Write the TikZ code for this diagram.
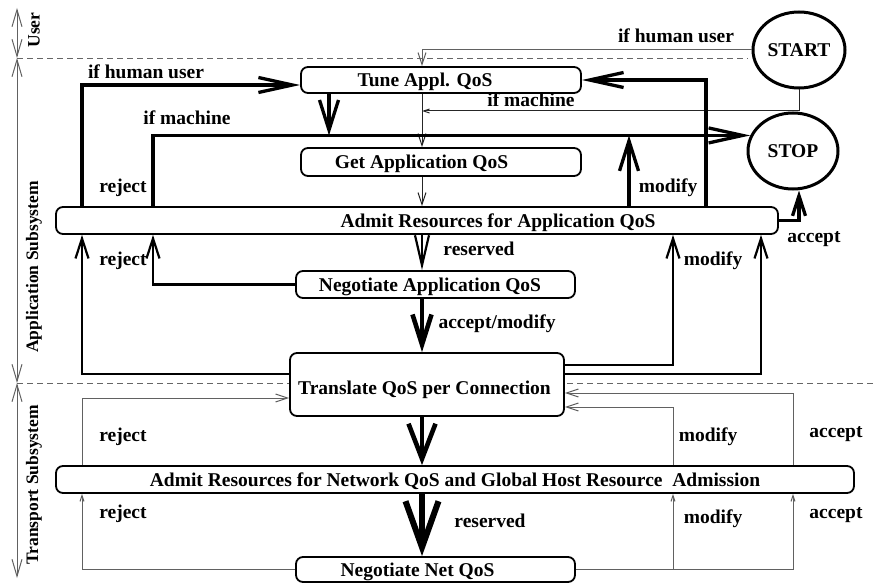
\documentclass[tikz,border=0pt]{standalone}
\usepackage{fontspec}
\setmainfont{Liberation Serif}
\usetikzlibrary{arrows.meta,shapes.geometric}

\tikzset{
  Vhuge/.tip={Straight Barb[length=46pt,width=33pt]},
  Vbig/.tip={Straight Barb[length=30pt,width=19pt]},
  Vlong/.tip={Straight Barb[length=34pt,width=15pt]},
  Vmed/.tip={Straight Barb[length=20pt,width=13pt]},
  Vsmall/.tip={Straight Barb[length=12pt,width=8pt]},
  Vtiny/.tip={Straight Barb[length=6pt,width=4pt]},
}

\begin{document}
\begin{tikzpicture}[x=1pt,y=-1pt,
  every node/.style={font=\fontsize{19.5}{22}\selectfont\bfseries},
  box/.style={draw,line width=1.8pt,rounded corners=7pt,fill=white,inner sep=0pt,text height=13pt,text depth=0pt},
  state/.style={draw,ellipse,line width=3pt,fill=white,inner sep=0pt,text height=13pt,text depth=0pt},
  lbl/.style={inner sep=0pt,text height=12pt,text depth=3pt},
  side/.style={inner sep=0pt,rotate=90,font=\fontsize{17.5}{20}\selectfont\bfseries},
  thinln/.style={line width=1pt,draw=black!62},
  thinblk/.style={line width=1pt,draw=black!85},
  medln/.style={line width=2.2pt},
  thickln/.style={line width=3.3pt},
  vthickln/.style={line width=4.6pt},
  hugeln/.style={line width=6pt},
  sep/.style={line width=0.9pt,draw=black!60,dash pattern=on 6pt off 4pt},
  axis/.style={line width=1pt,draw=black!62},
]
\useasboundingbox (0,0) rectangle (875,583);

% columns and fixed points of the connectors
\coordinate (cA) at (82,0);
\coordinate (cB) at (153,0);
\coordinate (cT) at (329,0);
\coordinate (cM) at (422,0);
\coordinate (cU) at (629,0);
\coordinate (cW) at (673,0);
\coordinate (cV) at (706,0);
\coordinate (cX) at (761,0);
\coordinate (cY) at (793,0);
\coordinate (cS) at (799,0);
\coordinate (machJ) at (422,111);

% subsystem axis and separators
\coordinate (axTop) at (17,8);
\coordinate (axUser) at (17,58);
\coordinate (axTrans) at (17,383);
\coordinate (axBot) at (17,578);
\coordinate (dashEnd) at (748,58);
\coordinate (rEdge) at (875,383);

\draw[sep] (axUser) -- (dashEnd);
\draw[sep] (axTrans) -- (rEdge);
\draw[axis,{Straight Barb[length=17pt,width=10pt]}-{Straight Barb[length=17pt,width=10pt]}] (axTop) -- (axUser);
\draw[axis,{Straight Barb[length=17pt,width=10pt]}-{Straight Barb[length=17pt,width=10pt]}] (axUser) -- (axTrans);
\draw[axis,{Straight Barb[length=17pt,width=10pt]}-{Straight Barb[length=17pt,width=10pt]}] (axTrans) -- (axBot);

\node[side] (lUser) at (34,30) {User};
\node[side] (lApp) at (34,267) {Application Subsystem};
\node[side] (lTrans) at (34,485) {Transport Subsystem};

% states
\node[state,minimum width=92pt,minimum height=76pt] (start) at (799,50) {START};
\node[state,minimum width=90pt,minimum height=76pt] (stop) at (793,151) {STOP};

% activity boxes
\node[box,minimum width=280pt,minimum height=26pt] (tune) at (441,80) {Tune Appl. QoS\hspace*{32pt}};
\node[box,minimum width=280pt,minimum height=28pt] (getapp) at (441,162) {Get Application QoS\hspace*{39pt}};
\node[box,minimum width=722pt,minimum height=27pt] (admitA) at (417,220.5) {\hspace*{162pt}Admit Resources for Application QoS};
\node[box,minimum width=279pt,minimum height=27pt] (negA) at (435.5,284.5) {Negotiate Application QoS\hspace*{11pt}};
\node[box,minimum width=274pt,minimum height=63pt,text height=20pt] (trans) at (427,384.5) {Translate QoS per Connection\hspace*{5pt}};
\node[box,minimum width=798pt,minimum height=27pt] (admitN) at (455,479.5) {Admit Resources for Network QoS and Global Host Resource\ \ Admission};
\node[box,minimum width=279pt,minimum height=25pt] (negN) at (435.5,569.5) {Negotiate Net QoS\hspace*{36pt}};

% user / start connectors
\draw[thinln,-{Vsmall}] (start.west) -| (tune.north -| cM);
\draw[thinblk,-{Vtiny}] (start.south) |- (machJ);
\draw[thinblk,-{Vsmall}] (tune.south -| cM) -- (getapp.north -| cM);
\draw[thinblk,-{Vsmall}] (getapp.south -| cM) -- (admitA.north -| cM);

% thick application-level loops
\draw[thickln,-{Vlong}] (admitA.north -| cA) |- ([yshift=-5pt]tune.west);
\draw[thickln,-{Vlong}] (admitA.north -| cB) |- (stop.160);
\draw[thickln,-{Vbig}] (tune.south -| cT) -- (cT |- stop.160);
\draw[thickln,-{Vbig}] (admitA.north -| cU) -- (cU |- stop.160);
\draw[thickln,-{Vlong}] (admitA.north -| cV) |- (tune.east);
\draw[thickln,-{Vmed}] (admitA.east) -| (stop.south -| cS);

% application subsystem
\draw[medln,-{Straight Barb[length=30pt,width=14pt]}] (admitA.south -| cM) -- (negA.north -| cM);
\draw[medln,-{Vmed}] (negA.west) -| (admitA.south -| cB);
\draw[vthickln,-{Vbig}] (negA.south -| cM) -- (trans.north -| cM);
\draw[medln,-{Vmed}] ([yshift=10.5pt]trans.west) -| (admitA.south -| cA);
\draw[medln,-{Vmed}] ([yshift=19.5pt]trans.east) -| (admitA.south -| cW);
\draw[medln,-{Vmed}] ([yshift=10.5pt]trans.east) -| (admitA.south -| cX);

% transport subsystem
\draw[vthickln,-{Straight Barb[length=35pt,width=27pt]}] (trans.south -| cM) -- (admitN.north -| cM);
\draw[hugeln,-{Vhuge}] (admitN.south -| cM) -- (negN.north -| cM);
\draw[thinln,-{Vsmall}] (admitN.north -| cA) |- ([yshift=-13.5pt]trans.west);
\draw[thinln,-{Vtiny}] (negN.west) -| (admitN.south -| cA);
\draw[thinln,-{Vsmall}] (admitN.north -| cW) |- ([yshift=-22.5pt]trans.east);
\draw[thinln,-{Vsmall}] (admitN.north -| cY) |- ([yshift=-8.5pt]trans.east);
\draw[thinln,-{Vtiny}] (negN.east) -| (admitN.south -| cW);
\draw[thinln,-{Vtiny}] (negN.east) -| (admitN.south -| cY);

% connector labels
\node[lbl] (t1) at (676,38) {if human user};
\node[lbl] (t2) at (531,102) {if machine};
\node[lbl] (t3) at (146,74) {if human user};
\node[lbl] (t4) at (187,120) {if machine};
\node[lbl] (t5) at (123,188) {reject};
\node[lbl] (t6) at (668,188) {modify};
\node[lbl] (t7) at (814,238) {accept};
\node[lbl] (t8) at (479,251) {reserved};
\node[lbl] (t9) at (123,261) {reject};
\node[lbl] (t10) at (713,261) {modify};
\node[lbl] (t11) at (497,324) {accept/modify};
\node[lbl] (t12) at (123,437) {reject};
\node[lbl] (t13) at (708,437) {modify};
\node[lbl] (t14) at (836,433) {accept};
\node[lbl] (t15) at (490,523) {reserved};
\node[lbl] (t16) at (123,514) {reject};
\node[lbl] (t17) at (713,519) {modify};
\node[lbl] (t18) at (836,514) {accept};
\end{tikzpicture}
\end{document}
